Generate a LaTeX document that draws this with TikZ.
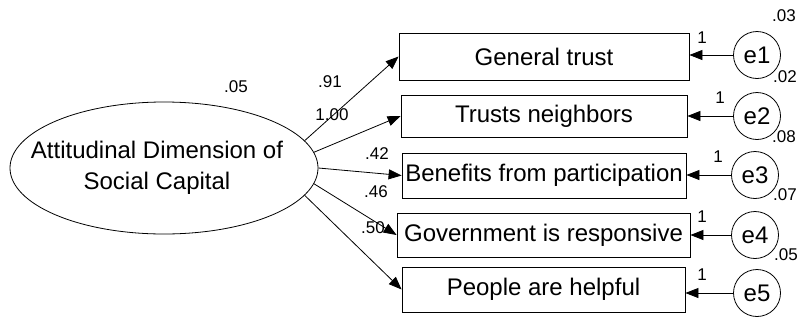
\documentclass[tikz,border=0pt]{standalone}
\usepackage{fontspec}
\setmainfont{Liberation Sans}
\usetikzlibrary{arrows.meta,shapes.geometric}
\tikzset{x=1pt,y=-1pt,
    every node/.style={font=\fontsize{24}{31}\selectfont},
    indbox/.style={draw,line width=0.8pt,minimum height=45pt,inner sep=0pt},
    errc/.style={draw,line width=0.8pt,circle,minimum size=47pt,inner sep=0pt},
    est/.style={font=\fontsize{17}{20}\selectfont,inner sep=0pt},
    load/.style={line width=0.8pt,-{Triangle[length=13pt,width=10pt]}},
    }

\begin{document}
\begin{tikzpicture}
\useasboundingbox (0,0) rectangle (800,322);
% latent variable
\node[draw,ellipse,line width=0.8pt,minimum width=308pt,minimum height=132pt,inner sep=0pt]
    (adsc) at (164,168) {};
\node[align=center,inner sep=0pt] (adsctext) at (157,168) {Attitudinal Dimension of\\Social Capital};
\node[est] (v05) at (236,87) {.05};
% indicators
\node[indbox,minimum width=290pt,minimum height=47pt] (gt) at (544,56.5) {General trust};
\node[indbox,minimum width=286pt,minimum height=42pt] (tn) at (544,116) {Trusts neighbors};
\node[indbox,minimum width=284pt] (bp) at (544,175.5) {Benefits from participation};
\node[indbox,minimum width=293pt,minimum height=44pt] (gr) at (543.5,235) {Government is responsive};
\node[indbox,minimum width=283pt] (ph) at (543.5,289.5) {People are helpful};
% errors
\node[errc] (e1) at (757,55) {e1};
\node[errc] (e2) at (757,116) {e2};
\node[errc] (e3) at (755,175) {e3};
\node[errc] (e4) at (755,235) {e4};
\node[errc] (e5) at (757,293) {e5};
% loadings
\draw[load] (adsc.11) -- (gt.west);
\draw[load] (adsc.6) -- (tn.west);
\draw[load] (adsc.0) -- (bp.west);
\draw[load] (adsc.-6) -- (gr.west);
\draw[load] (adsc.-11) -- (ph.west);
\node[est] (l1) at (330,82) {.91};
\node[est] (l2) at (332,115) {1.00};
\node[est] (l3) at (377,154) {.42};
\node[est] (l4) at (376,192) {.46};
\node[est] (l5) at (373,228) {.50};
% error paths
\draw[load] (e1) -- (e1 -| gt.east);
\draw[load] (e2) -- (e2 -| tn.east);
\draw[load] (e3) -- (e3 -| bp.east);
\draw[load] (e4) -- (e4 -| gr.east);
\draw[load] (e5) -- (e5 -| ph.east);
\node[est] (f1) at (702,38) {1};
\node[est] (f2) at (720,98) {1};
\node[est] (f3) at (718,157) {1};
\node[est] (f4) at (702,217) {1};
\node[est] (f5) at (702,275) {1};
\node[est] (r1) at (784,16) {.03};
\node[est] (r2) at (785,77) {.02};
\node[est] (r3) at (784,137) {.08};
\node[est] (r4) at (785,195) {.07};
\node[est] (r5) at (786,255) {.05};
\end{tikzpicture}
\end{document}
